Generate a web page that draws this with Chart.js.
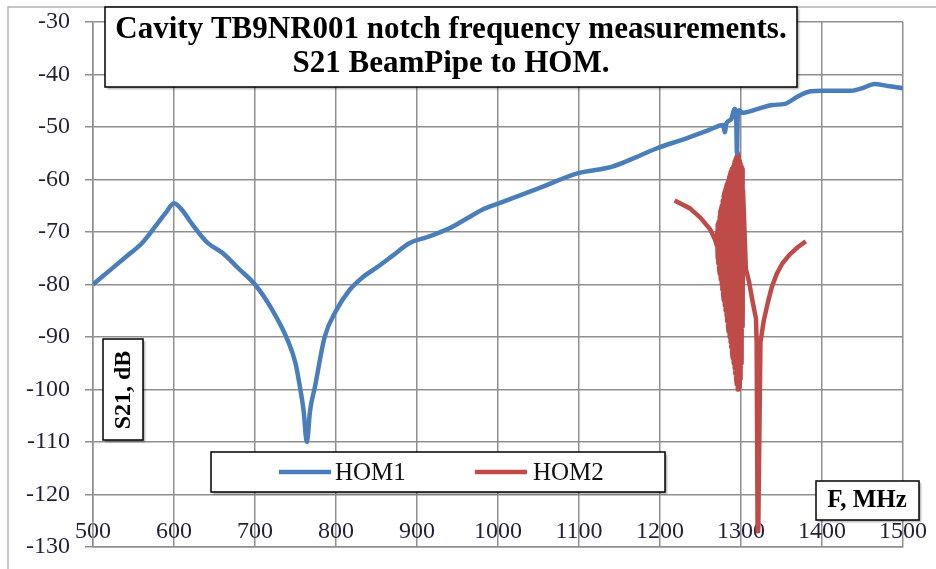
<!DOCTYPE html>
<html>
<head>
<meta charset="utf-8">
<script src="https://cdn.jsdelivr.net/npm/chart.js@4.4.1/dist/chart.umd.min.js"></script>
<style>
  html, body { margin: 0; padding: 0; background: #fff; }
  #wrap { position: relative; width: 936px; height: 569px; }
</style>
</head>
<body>
<div id="wrap"><canvas id="chart"></canvas></div>
<script>
const titleLines = ["Cavity TB9NR001 notch frequency measurements.", "S21 BeamPipe to HOM."];
const yAxisTitle = "S21, dB";
const xAxisTitle = "F, MHz";
const seriesNames = ["HOM1", "HOM2"];

const xTicks = [500, 600, 700, 800, 900, 1000, 1100, 1200, 1300, 1400, 1500];
const yTicks = [-130, -120, -110, -100, -90, -80, -70, -60, -50, -40, -30];

// HOM1
const hom1Freq = [500, 520, 540, 560, 580, 590, 600, 610, 620, 641, 660, 680, 700, 720, 740, 750, 756, 760,
  764, 768, 774, 786, 800, 817, 833, 850, 870, 891, 912, 940, 963, 980, 1000, 1050, 1099, 1120, 1140, 1170,
  1197, 1230, 1260, 1278, 1280, 1282, 1288, 1292, 1294, 1295, 1296, 1298, 1301, 1320, 1339, 1354, 1370,
  1386, 1400, 1436, 1450, 1465, 1481, 1500];
const hom1S21 = [-80, -77.4, -74.8, -72.2, -68.3, -66.3, -64.5, -65.8, -68, -72, -74, -77, -80, -84.5, -90.5,
  -95, -100, -104, -110, -104, -99.5, -90, -85, -81, -78.6, -76.8, -74.5, -72.1, -71, -69.3, -67.3, -65.8,
  -64.6, -61.7, -58.8, -58.2, -57.6, -55.8, -54, -52.3, -50.6, -49.6, -51, -49.3, -48.5, -46.5, -48, -55,
  -48, -46.8, -47.3, -46.6, -45.8, -45.6, -44.2, -43.2, -43.1, -43.1, -42.6, -41.8, -42.2, -42.6];

// HOM2 (dense ringing around 1270-1302 MHz)
const hom2Freq = [1218, 1237, 1250, 1262, 1268, 1270,
  1270.5, 1271, 1271.5, 1272, 1272.5, 1273, 1273.5, 1274, 1274.5, 1275, 1275.5, 1276, 1276.5, 1277,
  1277.5, 1278, 1278.5, 1279, 1279.5, 1280, 1280.5, 1281, 1281.5, 1282, 1282.5, 1283, 1283.5, 1284,
  1284.5, 1285, 1285.5, 1286, 1286.5, 1287, 1287.5, 1288, 1288.5, 1289, 1289.5, 1290, 1290.5, 1291,
  1291.5, 1292, 1292.5, 1293, 1293.5, 1294, 1294.5, 1295, 1295.5, 1296, 1296.5, 1297, 1297.5, 1298,
  1298.5, 1299, 1299.5, 1300, 1300.5, 1301, 1301.5, 1302, 1302.5,
  1306, 1310, 1314, 1318.5, 1319.3, 1320.5, 1321.3, 1324, 1328, 1333, 1338, 1344, 1351, 1360, 1370,
  1380];
const hom2S21 = [-64, -65.5, -67.3, -69.5, -71.5, -72.5,
  -70, -75, -68.5, -76, -68, -77, -67, -78, -66, -79, -65.5, -80, -65, -81,
  -64, -82, -63, -83, -62.5, -84, -62, -85, -61.5, -86, -61, -87, -60.5, -88,
  -60, -89, -59.5, -90, -59, -91, -58.5, -92, -58, -93, -58, -94, -57.5, -95,
  -57, -96, -56.5, -97, -56, -98, -55.5, -99, -55, -100, -55.5, -100, -56, -99.5,
  -56.5, -98, -57, -95, -57.5, -92, -58, -88, -62, -77,
  -79.5, -83, -86.5, -91, -127, -127, -91, -87, -83.5, -80.5, -78, -76, -74.3, -72.9, -71.8,
  -71];

const serif = "'Liberation Serif', 'Times New Roman', serif";
const gridGray = "#8f8f8f";
const tickColor = "#221f3a";
const blue = "#4a7ebb";
const red = "#be4b48";

function toPoints(xs, ys) {
  return xs.map((x, i) => ({ x: x, y: ys[i] }));
}

function drawBox(ctx, x, y, w, h) {
  ctx.save();
  ctx.shadowColor = "rgba(0,0,0,0.35)";
  ctx.shadowBlur = 2;
  ctx.shadowOffsetX = 1.5;
  ctx.shadowOffsetY = 1.5;
  ctx.fillStyle = "#fff";
  ctx.fillRect(x, y, w, h);
  ctx.restore();
  ctx.save();
  ctx.strokeStyle = "#000";
  ctx.lineWidth = 1.5;
  ctx.strokeRect(x, y, w, h);
  ctx.restore();
}

const decorations = {
  id: "decorations",
  beforeDraw(chart) {
    const ctx = chart.ctx;
    ctx.save();
    ctx.fillStyle = "#fff";
    ctx.fillRect(0, 0, chart.width, chart.height);
    ctx.strokeStyle = "#b4b4b4";
    ctx.lineWidth = 1.5;
    ctx.strokeRect(8, 7, chart.width + 10, chart.height + 10);
    ctx.restore();
  },
  afterDraw(chart) {
    const ctx = chart.ctx;

    // title
    drawBox(ctx, 105, 7, 692, 80);
    ctx.save();
    ctx.fillStyle = "#000";
    ctx.font = "bold 31px " + serif;
    ctx.textAlign = "center";
    ctx.textBaseline = "middle";
    ctx.fillText(titleLines[0], 451, 30);
    ctx.fillText(titleLines[1], 451, 64);
    ctx.restore();

    // y axis title
    drawBox(ctx, 103, 339, 40, 101);
    ctx.save();
    ctx.translate(124, 390);
    ctx.rotate(-Math.PI / 2);
    ctx.fillStyle = "#000";
    ctx.font = "bold 24px " + serif;
    ctx.textAlign = "center";
    ctx.textBaseline = "middle";
    ctx.fillText(yAxisTitle, 0, 0);
    ctx.restore();

    // x axis title
    drawBox(ctx, 816, 481, 103, 39);
    ctx.save();
    ctx.fillStyle = "#000";
    ctx.font = "bold 25px " + serif;
    ctx.textAlign = "center";
    ctx.textBaseline = "middle";
    ctx.fillText(xAxisTitle, 867, 501);
    ctx.restore();

    // legend
    drawBox(ctx, 211, 452, 454, 40);
    const items = [[279, 335], [475, 533]];
    chart.data.datasets.forEach((ds, i) => {
      const [lx, tx] = items[i];
      ctx.save();
      ctx.strokeStyle = ds.borderColor;
      ctx.lineWidth = 4.5;
      ctx.beginPath();
      ctx.moveTo(lx, 472);
      ctx.lineTo(lx + 52, 472);
      ctx.stroke();
      ctx.fillStyle = "#111";
      ctx.font = "25px " + serif;
      ctx.textAlign = "left";
      ctx.textBaseline = "middle";
      ctx.fillText(ds.label, tx, 473);
      ctx.restore();
    });
  }
};

new Chart(document.getElementById("chart"), {
  type: "line",
  data: {
    datasets: [
      {
        label: seriesNames[0],
        data: toPoints(hom1Freq, hom1S21),
        borderColor: blue,
        borderWidth: 4.5,
        pointRadius: 0,
        cubicInterpolationMode: "monotone",
      },
      {
        label: seriesNames[1],
        data: toPoints(hom2Freq, hom2S21),
        borderColor: red,
        borderWidth: 4.5,
        borderJoinStyle: "round",
        pointRadius: 0,
        tension: 0,
      },
    ],
  },
  options: {
    responsive: true,
    maintainAspectRatio: false,
    animation: false,
    events: [],
    layout: { padding: { left: 0, top: 22, right: 33, bottom: 0 } },
    plugins: {
      legend: { display: false },
      tooltip: { enabled: false },
    },
    scales: {
      x: {
        type: "linear",
        min: 500,
        max: 1500,
        afterBuildTicks: (scale) => { scale.ticks = xTicks.map((v) => ({ value: v })); },
        afterFit: (scale) => { scale.height = 22; },
        grid: { color: gridGray, lineWidth: 1.5, drawTicks: false },
        border: { color: gridGray, width: 1.5 },
        ticks: {
          mirror: true,
          padding: 1,
          maxRotation: 0,
          autoSkip: false,
          color: tickColor,
          font: { family: serif, size: 24 },
          callback: (v) => String(v),
        },
      },
      y: {
        min: -130,
        max: -30,
        afterBuildTicks: (scale) => { scale.ticks = yTicks.map((v) => ({ value: v })); },
        afterFit: (scale) => {
          scale.width = 93;
          scale.paddingTop = 0;
          scale.paddingBottom = 0;
        },
        grid: { color: gridGray, lineWidth: 1.5, tickLength: 8 },
        border: { color: gridGray, width: 1.5 },
        ticks: {
          padding: 15,
          color: tickColor,
          font: { family: serif, size: 24 },
          callback: (v) => String(v),
        },
      },
    },
  },
  plugins: [decorations],
});
</script>
</body>
</html>
